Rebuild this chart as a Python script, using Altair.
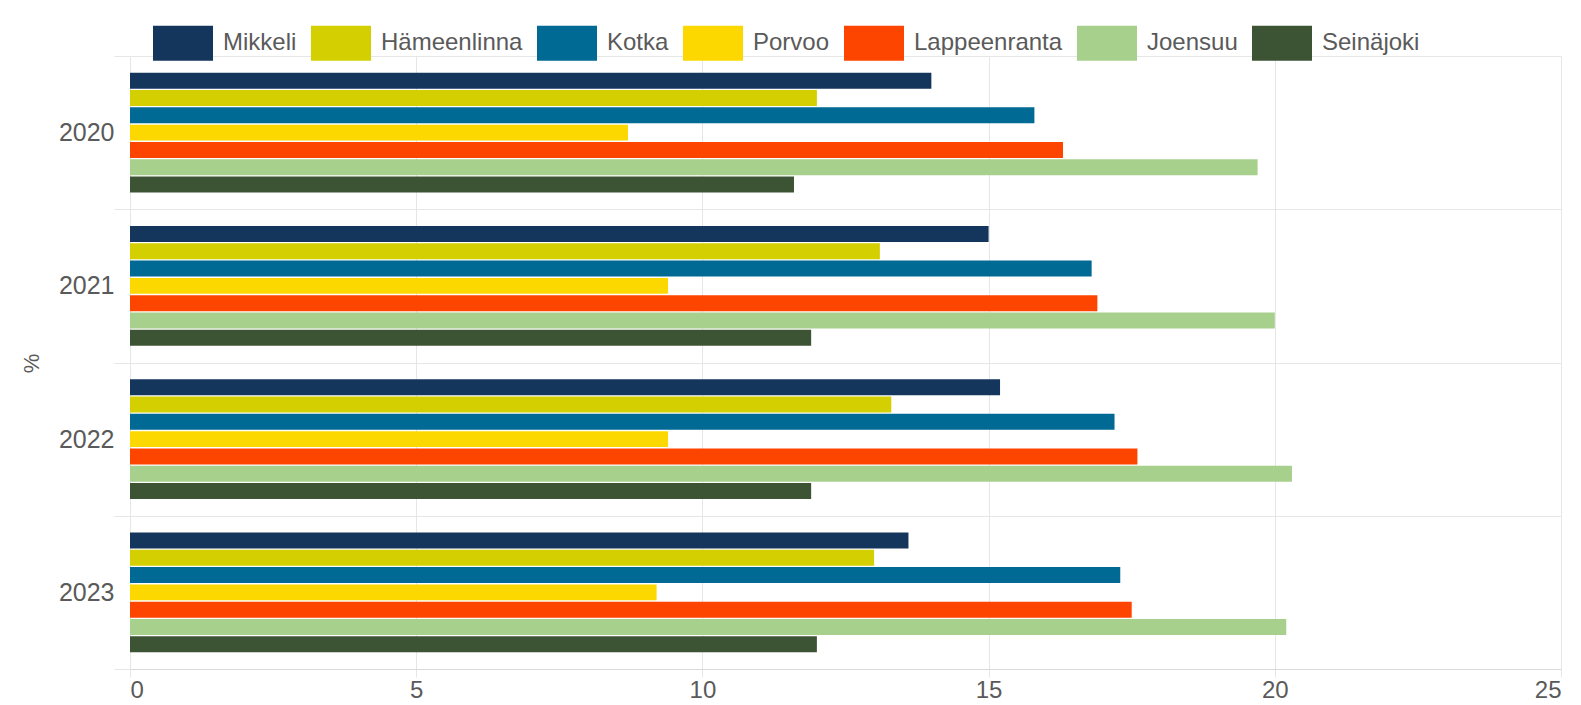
import altair as alt
import pandas as pd

years = ["2020", "2021", "2022", "2023"]
cities = ["Mikkeli", "Hämeenlinna", "Kotka", "Porvoo", "Lappeenranta", "Joensuu", "Seinäjoki"]
colors = ["#14365d", "#d4cf00", "#006994", "#fcd800", "#fe4500", "#a8d08d", "#3c5434"]

mikkeli = [14.0, 15.0, 15.2, 13.6]
hameenlinna = [12.0, 13.1, 13.3, 13.0]
kotka = [15.8, 16.8, 17.2, 17.3]
porvoo = [8.7, 9.4, 9.4, 9.2]
lappeenranta = [16.3, 16.9, 17.6, 17.5]
joensuu = [19.7, 20.0, 20.3, 20.2]
seinajoki = [11.6, 11.9, 11.9, 12.0]

series = [mikkeli, hameenlinna, kotka, porvoo, lappeenranta, joensuu, seinajoki]
x_ticks = [0, 5, 10, 15, 20, 25]

rows = []
for city, vals in zip(cities, series):
    for y, v in zip(years, vals):
        rows.append({"year": y, "city": city, "value": v})
df = pd.DataFrame(rows)

FONT = "Liberation Sans"
GRID = "#e6e6e6"
TEXT = "#5a5a5a"

rect_path = "M-1,-0.5833L1,-0.5833L1,0.5833L-1,0.5833Z"

chart = (
    alt.Chart(df)
    .mark_bar()
    .encode(
        y=alt.Y(
            "year:N",
            sort=years,
            scale=alt.Scale(paddingInner=0, paddingOuter=0),
            axis=alt.Axis(
                title="%",
                tickBand="extent",
                grid=True,
                gridColor=GRID,
                domain=False,
                ticks=True,
                tickColor=GRID,
                tickSize=16,
                labelPadding=0,
                labelFontSize=25,
                labelColor=TEXT,
                labelFont=FONT,
                titleFont=FONT,
                titleFontSize=22,
                titleFontWeight="normal",
                titleColor=TEXT,
                titleX=-99,
                titleY=307,
                titleAlign="center",
                titleBaseline="middle",
            ),
        ),
        yOffset=alt.YOffset(
            "city:N",
            sort=cities,
            scale=alt.Scale(paddingInner=0.08, paddingOuter=0.965),
        ),
        x=alt.X(
            "value:Q",
            scale=alt.Scale(domain=[0, 25], nice=False),
            axis=alt.Axis(
                title=None,
                values=x_ticks,
                grid=True,
                gridColor=GRID,
                domainColor="#d9d9d9",
                tickColor=GRID,
                tickSize=8,
                labelPadding=1,
                labelFontSize=24,
                labelColor=TEXT,
                labelFont=FONT,
            ),
        ),
        color=alt.Color(
            "city:N",
            sort=cities,
            scale=alt.Scale(domain=cities, range=colors),
            legend=alt.Legend(
                title=None,
                orient="none",
                legendX=23,
                legendY=-43,
                direction="horizontal",
                columns=7,
                symbolType=rect_path,
                symbolSize=3600,
                symbolStrokeWidth=0,
                symbolOpacity=1,
                labelFontSize=24,
                labelFont=FONT,
                labelColor=TEXT,
                labelOffset=10,
                labelLimit=300,
                columnPadding=14,
                padding=0,
            ),
        ),
    )
    .properties(
        width=1431,
        height=613,
        autosize=alt.AutoSizeParams(type="none"),
        padding={"left": 122, "top": 48, "right": 12, "bottom": 36},
    )
    .configure_view(stroke=None)
)

chart.save("out.html", embed_options={"renderer": "svg", "actions": False})
